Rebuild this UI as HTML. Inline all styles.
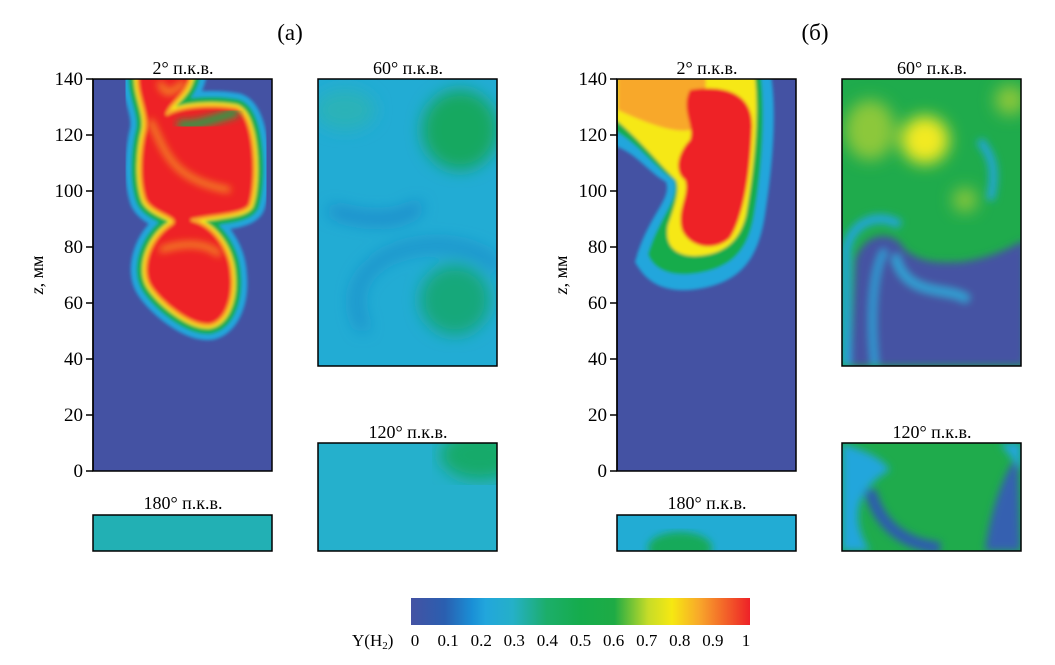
<!DOCTYPE html>
<html><head><meta charset="utf-8"><style>
body{margin:0;background:#fff;}
svg{display:block;font-family:"Liberation Serif",serif;}
</style></head><body>
<svg width="1055" height="665" viewBox="0 0 1055 665">
<defs>
<filter id="b4"><feGaussianBlur stdDeviation="4"/></filter>
<filter id="b8"><feGaussianBlur stdDeviation="8"/></filter>
<filter id="b2"><feGaussianBlur stdDeviation="1.5"/></filter>
<linearGradient id="cmap" x1="0" x2="1" y1="0" y2="0">
<stop offset="0" stop-color="#4452a3"/><stop offset="0.1" stop-color="#2a5fb0"/>
<stop offset="0.18" stop-color="#1a8fd6"/><stop offset="0.22" stop-color="#22a6dc"/>
<stop offset="0.3" stop-color="#25b0c8"/><stop offset="0.4" stop-color="#1cae6a"/>
<stop offset="0.5" stop-color="#15ac4c"/><stop offset="0.6" stop-color="#1eab45"/>
<stop offset="0.7" stop-color="#c7dc28"/><stop offset="0.77" stop-color="#f6e812"/>
<stop offset="0.85" stop-color="#f8a82a"/><stop offset="1" stop-color="#ee2128"/>
</linearGradient>
<path id="pa" d="M138,70 L192,70 C190,95 172,100 167,114 C182,106 212,104 236,108 C256,114 258,182 250,205 C245,215 215,215 192,220 C216,226 231,252 232,276 C234,301 225,322 210,325 C190,327 160,302 150,286 C140,270 148,240 170,225 C183,218 152,215 145,200 C138,180 140,150 145,130 C148,110 135,95 138,70 Z"/>
<clipPath id="ca2"><rect x="93" y="79" width="179" height="392"/></clipPath>
<clipPath id="ca60"><rect x="318" y="79" width="179" height="287"/></clipPath>
<clipPath id="ca120"><rect x="318" y="443" width="179" height="108"/></clipPath>
<clipPath id="cb2"><rect x="617" y="79" width="179" height="392"/></clipPath>
<clipPath id="cb60"><rect x="842" y="79" width="179" height="287"/></clipPath>
<clipPath id="cb120"><rect x="842" y="443" width="179" height="108"/></clipPath>
<clipPath id="cb180"><rect x="617" y="515" width="179" height="36"/></clipPath>
</defs>

<text x="290" y="40" font-size="23" text-anchor="middle">(a)</text>
<text x="815" y="40" font-size="23" text-anchor="middle">(б)</text>

<!-- (a) 2° -->
<g>
<text x="183" y="74" font-size="18" text-anchor="middle">2° п.к.в.</text>
<g clip-path="url(#ca2)">
<rect x="93" y="79" width="179" height="392" fill="#4452a3"/>
<g filter="url(#b2)">
<use href="#pa" fill="#22a6dc" stroke="#22a6dc" stroke-width="30" stroke-linejoin="round"/>
<use href="#pa" fill="#15ac4c" stroke="#15ac4c" stroke-width="18" stroke-linejoin="round"/>
<use href="#pa" fill="#f6e812" stroke="#f6e812" stroke-width="7" stroke-linejoin="round"/>
<use href="#pa" fill="#ee2128" stroke="#f8a82a" stroke-width="3" stroke-linejoin="round"/>
</g>
<path d="M160,82 C165,100 175,90 185,82 M150,120 C165,150 170,180 230,190 M160,250 C190,240 210,245 220,255" stroke="#f6c020" stroke-width="5" fill="none" filter="url(#b4)" opacity="0.8"/>
<path d="M178,124 C195,128 215,118 238,112" stroke="#15ac4c" stroke-width="8" fill="none" filter="url(#b4)"/>
</g>
<rect x="93" y="79" width="179" height="392" fill="none" stroke="#000" stroke-width="1.5"/>
</g>

<!-- (a) 60° -->
<g>
<text x="408" y="74" font-size="18" text-anchor="middle">60° п.к.в.</text>
<g clip-path="url(#ca60)">
<rect x="318" y="79" width="179" height="287" fill="#22acd4"/>
<g filter="url(#b8)">
<ellipse cx="460" cy="130" rx="38" ry="40" fill="#14a860"/>
<ellipse cx="455" cy="300" rx="35" ry="35" fill="#18a87a"/>
<ellipse cx="345" cy="110" rx="30" ry="20" fill="#2cb2b8"/>
<path d="M330,210 C360,220 400,225 420,205" stroke="#1b78c6" stroke-width="8" fill="none"/>
<path d="M365,330 C340,290 370,245 440,245 C480,248 495,260 497,270" stroke="#1b84c8" stroke-width="8" fill="none"/>
</g>
</g>
<rect x="318" y="79" width="179" height="287" fill="none" stroke="#000" stroke-width="1.5"/>
</g>

<!-- (a) 120° -->
<g>
<text x="408" y="438" font-size="18" text-anchor="middle">120° п.к.в.</text>
<g clip-path="url(#ca120)">
<rect x="318" y="443" width="179" height="108" fill="#25b0cc"/>
<ellipse cx="480" cy="455" rx="40" ry="25" fill="#18aa6a" filter="url(#b8)"/>
</g>
<rect x="318" y="443" width="179" height="108" fill="none" stroke="#000" stroke-width="1.5"/>
</g>

<!-- (a) 180° -->
<g>
<text x="183" y="509" font-size="18" text-anchor="middle">180° п.к.в.</text>
<rect x="93" y="515" width="179" height="36" fill="#22b0b4" stroke="#000" stroke-width="1.5"/>
</g>

<!-- (б) 2° -->
<g>
<text x="707" y="74" font-size="18" text-anchor="middle">2° п.к.в.</text>
<g clip-path="url(#cb2)">
<rect x="617" y="79" width="179" height="392" fill="#4452a3"/>
<g filter="url(#b2)">
<path d="M612,70 L770,70 C778,110 772,170 765,215 C758,260 740,285 690,290 C660,292 645,280 635,262 C648,215 672,200 666,182 C648,172 636,152 612,145 Z" fill="#22a6dc"/>
<path d="M614,70 L760,70 C766,110 762,170 754,215 C748,250 732,270 690,274 C665,276 652,266 648,254 C660,215 680,200 674,180 C655,168 640,145 614,130 Z" fill="#15ac4c"/>
<path d="M616,70 L754,70 C760,110 754,170 746,215 C740,240 725,255 695,256 C675,256 664,245 668,225 C675,205 680,190 676,180 C660,165 640,140 616,120 Z" fill="#f6e812"/>
<path d="M618,70 L705,70 C708,95 702,115 690,130 C675,133 650,125 618,110 Z" fill="#f8a82a"/>
<path d="M690,90 C720,85 755,90 752,130 C750,180 742,220 730,238 C715,252 690,248 682,230 C676,210 690,195 685,180 C672,170 680,150 690,140 C695,125 680,110 690,90 Z" fill="#ee2128"/>
</g>
</g>
<rect x="617" y="79" width="179" height="392" fill="none" stroke="#000" stroke-width="1.5"/>
</g>

<!-- (б) 60° -->
<g>
<text x="932" y="74" font-size="18" text-anchor="middle">60° п.к.в.</text>
<g clip-path="url(#cb60)">
<rect x="842" y="79" width="179" height="287" fill="#1fab4c"/>
<g filter="url(#b4)">
<path d="M850,366 L855,260 C865,230 895,230 905,250 C925,265 945,262 960,262 C990,258 1005,250 1025,240 L1025,366 Z" fill="#4452a3"/>
<path d="M846,366 L846,250 C852,220 880,212 900,225" stroke="#22a6dc" stroke-width="9" fill="none"/>
<path d="M875,366 C870,320 872,270 885,250" stroke="#22a6dc" stroke-width="6" fill="none"/>
<path d="M990,200 C1000,160 985,150 980,140" stroke="#22a6dc" stroke-width="8" fill="none"/>
<path d="M895,255 C905,300 950,285 968,300" stroke="#2aa6d8" stroke-width="8" fill="none"/>
</g>
<g filter="url(#b8)">
<circle cx="925" cy="140" r="24" fill="#f2ea20"/>
<ellipse cx="870" cy="130" rx="25" ry="30" fill="#8cc83a"/>
<circle cx="965" cy="200" r="12" fill="#8cc83a"/>
<circle cx="1010" cy="100" r="15" fill="#8cc83a"/>
</g>
</g>
<rect x="842" y="79" width="179" height="287" fill="none" stroke="#000" stroke-width="1.5"/>
</g>

<!-- (б) 120° -->
<g>
<text x="932" y="438" font-size="18" text-anchor="middle">120° п.к.в.</text>
<g clip-path="url(#cb120)">
<rect x="842" y="443" width="179" height="108" fill="#1fab4c"/>
<g filter="url(#b4)">
<path d="M842,443 L842,551 L870,551 C850,520 855,490 890,470 C880,455 860,450 842,443 Z" fill="#22a6dc"/>
<path d="M870,490 C880,530 910,545 940,548" stroke="#2e5cb0" stroke-width="12" fill="none"/>
<path d="M985,551 C990,510 1005,470 1018,455 L1021,551 Z" fill="#3560b0"/>
<path d="M1000,443 L1021,443 L1021,470 Z" fill="#22a6dc"/>
</g>
</g>
<rect x="842" y="443" width="179" height="108" fill="none" stroke="#000" stroke-width="1.5"/>
</g>

<!-- (б) 180° -->
<g>
<text x="707" y="509" font-size="18" text-anchor="middle">180° п.к.в.</text>
<g clip-path="url(#cb180)">
<rect x="617" y="515" width="179" height="36" fill="#22acd4"/>
<ellipse cx="680" cy="548" rx="32" ry="16" fill="#18aa5a" filter="url(#b4)"/>
</g>
<rect x="617" y="515" width="179" height="36" fill="none" stroke="#000" stroke-width="1.5"/>
</g>

<g id="axes"></g>

<!-- colorbar -->
<g>
<rect x="411" y="598" width="339" height="27" fill="url(#cmap)"/>
<text x="352" y="646" font-size="17">Y(H<tspan font-size="11" dy="3">2</tspan><tspan dy="-3">)</tspan></text>
<g id="cbticks"></g>
</g>

<script>
const zTicks = [0, 20, 40, 60, 80, 100, 120, 140];
const cbLabels = ["0","0.1","0.2","0.3","0.4","0.5","0.6","0.7","0.8","0.9","1"];
const NS = "http://www.w3.org/2000/svg";
const axes = document.getElementById("axes");
function yScale(z){ return 471 - z * (392/140); }
[93, 617].forEach(x0=>{
  const line = document.createElementNS(NS,"line");
  line.setAttribute("x1",x0);line.setAttribute("x2",x0);line.setAttribute("y1",79);line.setAttribute("y2",471);
  line.setAttribute("stroke","#000");line.setAttribute("stroke-width","1.5");
  
  
  axes.appendChild(line);
  zTicks.forEach(v=>{
    const y = yScale(v);
    const t = document.createElementNS(NS,"line");
    t.setAttribute("x1",x0-7);t.setAttribute("x2",x0);t.setAttribute("y1",y);t.setAttribute("y2",y);
    t.setAttribute("stroke","#000");t.setAttribute("stroke-width","1.5");
    
    
    axes.appendChild(t);
    const lb = document.createElementNS(NS,"text");
    lb.setAttribute("x",x0-10);lb.setAttribute("y",y+6);lb.setAttribute("font-size","19");lb.setAttribute("text-anchor","end");
    lb.textContent = v;
    
    
    axes.appendChild(lb);
  });
  const title = document.createElementNS(NS,"text");
  const tx = x0-50, ty = 275;
  title.setAttribute("x",tx);title.setAttribute("y",ty);title.setAttribute("font-size","18");
  title.setAttribute("text-anchor","middle");
  title.setAttribute("transform","rotate(-90 "+tx+" "+ty+")");
  const ts1 = document.createElementNS(NS,"tspan");
  ts1.setAttribute("font-style","italic");
  ts1.textContent = "z";
  const ts2 = document.createElementNS(NS,"tspan");
  ts2.textContent = ", мм";
  title.appendChild(ts1); title.appendChild(ts2);
  
  
  axes.appendChild(title);
});
const cb = document.getElementById("cbticks");
cbLabels.forEach((s,i)=>{
  const x = 415 + i*(331)/10;
  const lb = document.createElementNS(NS,"text");
  lb.setAttribute("x",x);lb.setAttribute("y",646);lb.setAttribute("font-size","17");lb.setAttribute("text-anchor","middle");
  lb.textContent = s;
  
  
  cb.appendChild(lb);
});
</script>
</svg>
</body></html>
